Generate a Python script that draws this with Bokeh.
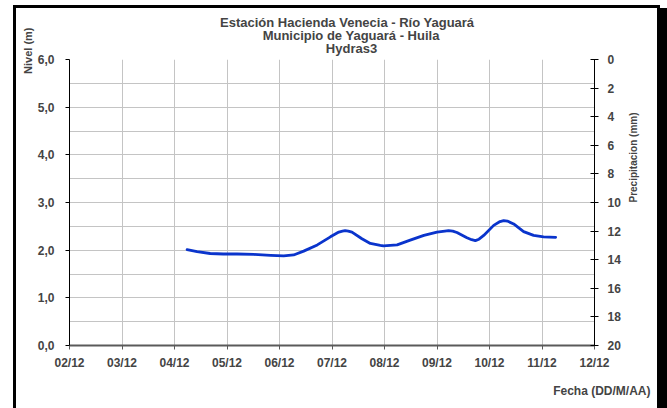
import math
from bokeh.plotting import figure
from bokeh.models import (Range1d, LinearAxis, FixedTicker, Title, Div)
from bokeh.layouts import row, column
from bokeh.embed import file_html
from bokeh.resources import INLINE

# ---- data ----
x_ticks = [2, 3, 4, 5, 6, 7, 8, 9, 10, 11, 12]
x_tick_labels = ["02/12", "03/12", "04/12", "05/12", "06/12", "07/12",
                 "08/12", "09/12", "10/12", "11/12", "12/12"]
nivel_ticks = [0, 1, 2, 3, 4, 5, 6]
nivel_labels = ["0,0", "1,0", "2,0", "3,0", "4,0", "5,0", "6,0"]
precip_ticks = [0, 2, 4, 6, 8, 10, 12, 14, 16, 18, 20]

fecha = [4.24, 4.43, 4.68, 4.93, 5.19, 5.51, 5.83, 6.08, 6.27, 6.46, 6.72,
         6.97, 7.13, 7.20, 7.25, 7.31, 7.38, 7.57, 7.73, 7.92, 7.98, 8.24,
         8.49, 8.75, 9.00, 9.15, 9.22, 9.30, 9.38, 9.57, 9.66, 9.73, 9.80,
         9.89, 10.08, 10.20, 10.27, 10.34, 10.46, 10.65, 10.84, 11.03, 11.26]
nivel = [2.01, 1.97, 1.93, 1.92, 1.92, 1.91, 1.89, 1.88, 1.90, 1.98, 2.11,
         2.28, 2.38, 2.40, 2.41, 2.40, 2.38, 2.24, 2.14, 2.10, 2.09, 2.11,
         2.21, 2.31, 2.38, 2.40, 2.41, 2.40, 2.37, 2.26, 2.22, 2.20, 2.23,
         2.31, 2.52, 2.60, 2.62, 2.61, 2.55, 2.39, 2.31, 2.28, 2.27]

title_lines = ["Estación Hacienda  Venecia - Río  Yaguará",
               "Municipio de Yaguará - Huila",
               "Hydras3"]
title_widths = [263.0, 177.7, 51.3]   # approx. rendered widths (13px bold)

FONT = "Arial"
W, H = 641, 400
FL, FR, FT, FB = 53, 578, 51, 345  # frame edges on canvas

p = figure(width=W, height=H, output_backend="svg", toolbar_location=None,
           x_range=Range1d(2, 12), y_range=Range1d(0, 6),
           min_border_left=FL, min_border_right=W - FR,
           min_border_top=FT, min_border_bottom=H - FB,
           title=title_lines[0])
p.margin = 0
p.outline_line_color = None
p.background_fill_color = "white"
p.border_fill_color = "white"

# titles (above): added titles sit closest to the frame, p.title outermost
CENTER_X = 351 - 16  # desired centre on canvas
def title_offset(w):
    return CENTER_X - FL - w / 2

def style_title(t, w, standoff):
    t.text_font = FONT
    t.text_font_style = "bold"
    t.text_font_size = "13px"
    t.align = "left"
    t.vertical_align = "bottom"
    t.offset = title_offset(w)
    try:
        t.standoff = standoff
    except Exception:
        t.standoff = 0

style_title(p.title, title_widths[0], 7)
t3 = Title(text=title_lines[2]); style_title(t3, title_widths[2], 7)
p.add_layout(t3, "above")
t2 = Title(text=title_lines[1]); style_title(t2, title_widths[1], -15)
p.add_layout(t2, "above")

# left axis
ax = p.yaxis[0]
ax.ticker = FixedTicker(ticks=nivel_ticks)
ax.major_label_overrides = {t: l for t, l in zip(nivel_ticks, nivel_labels)}
ax.major_label_text_font = FONT
ax.major_label_text_font_style = "bold"
ax.major_label_text_font_size = "12px"
ax.major_label_standoff = 11
ax.major_tick_out = 4
ax.major_tick_in = 0
ax.minor_tick_out = 0
ax.minor_tick_in = 0
ax.axis_line_color = "black"
ax.major_tick_line_color = "black"

p.add_layout(Title(text="Nivel (m)", text_font=FONT, text_font_style="bold",
                   text_font_size="11px", align="right", offset=-32,
                   standoff=0, vertical_align="middle"), "left")

# bottom axis
bx = p.xaxis[0]
bx.ticker = FixedTicker(ticks=x_ticks)
bx.major_label_overrides = {t: l for t, l in zip(x_ticks, x_tick_labels)}
bx.major_label_text_font = FONT
bx.major_label_text_font_style = "bold"
bx.major_label_text_font_size = "12px"
bx.major_label_standoff = 6
bx.major_tick_out = 4
bx.major_tick_in = 0
bx.minor_tick_out = 0
bx.axis_line_color = "#5a5a5a"
bx.axis_line_width = 2
bx.major_tick_line_color = "#5a5a5a"

p.add_layout(Title(text="Fecha (DD/M/AA)", text_font=FONT,
                   text_font_style="bold", text_font_size="12px",
                   align="right", offset=-56, standoff=20,
                   vertical_align="middle"), "below")

# right axis (precipitation, reversed)
p.extra_y_ranges = {"precip": Range1d(20, 0)}
rx = LinearAxis(y_range_name="precip", ticker=FixedTicker(ticks=precip_ticks))
rx.major_label_text_font = FONT
rx.major_label_text_font_style = "bold"
rx.major_label_text_font_size = "12px"
rx.major_label_standoff = 9
rx.major_tick_out = 4
rx.major_tick_in = 4
rx.minor_tick_out = 0
rx.minor_tick_in = 0
rx.axis_line_color = "black"
p.add_layout(rx, "right")

# second (label-only) right axis for "Precipitacion (mm)"
rl = LinearAxis(y_range_name="precip", ticker=FixedTicker(ticks=[]),
                bounds=(-0.8, 0), axis_label="Precipitacion (mm)")
rl.axis_line_color = None
rl.major_tick_line_color = None
rl.minor_tick_line_color = None
rl.axis_label_text_font = FONT
rl.axis_label_text_font_style = "bold"
rl.axis_label_text_font_size = "10px"
rl.axis_label_standoff = 10
rl.axis_label_orientation = math.pi / 2
p.add_layout(rl, "right")

# grids
p.xgrid.ticker = FixedTicker(ticks=x_ticks)
p.xgrid.grid_line_color = "#c4c4c4"
p.ygrid.ticker = FixedTicker(ticks=[t / 2 for t in range(13)])
p.ygrid.grid_line_color = "#c4c4c4"

# data line
p.line(fecha, nivel, line_color="#0a34cc", line_width=2.8,
       line_join="round", line_cap="round")

# black chart border (left, top, right shadow)
def box(w, h, color):
    return Div(width=w, height=h, margin=0, styles={"background-color": color})

top = row(box(13, 5, "white"), box(654, 5, "white"), spacing=0, margin=0)
top2 = row(box(13, 3, "white"), box(647, 3, "black"), box(7, 3, "white"),
           spacing=0, margin=0)
main = row(box(13, H, "white"), box(3, H, "black"), p, box(10, H, "black"),
           spacing=0, margin=0)
layout = column(top, top2, main, spacing=0, margin=0)

open("out.html", "w").write(file_html(layout, INLINE))
